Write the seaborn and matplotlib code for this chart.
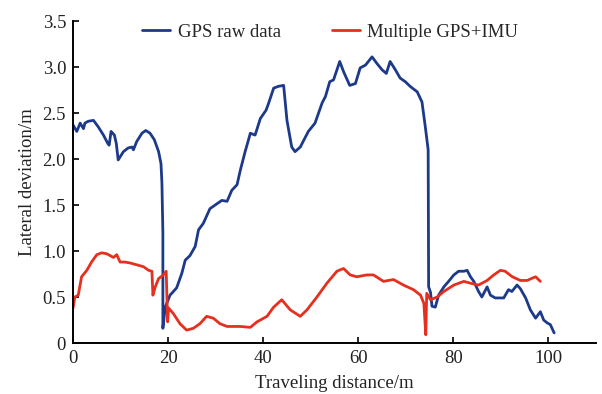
import matplotlib
matplotlib.use("Agg")
import matplotlib.pyplot as plt
import seaborn as sns
import pandas as pd

# GPS raw data
gps_x = [0, 0.8, 1.5, 2.2, 2.5, 3.2, 4.3, 5.3, 6.4, 7.3, 7.6, 8.0, 8.7, 9.1, 9.5, 10.6, 11.6, 12.4, 12.7,
         13.4, 14.5, 15.3, 16.2, 17.1, 18.0, 18.5, 18.7, 18.9, 18.9, 19.4, 20.4, 21.8, 22.9, 23.6, 24.6, 25.7,
         26.4, 27.4, 28.8, 29.9, 31.3, 32.4, 33.4, 34.5, 35.2, 36.2, 37.3, 38.3, 39.4, 40.6, 41.1, 42.2,
         43.2, 44.3, 45.0, 46.0, 46.7, 47.8, 49.5, 50.9, 52.4, 53.1, 54.0, 54.8, 56.1, 56.9, 58.2, 59.4,
         60.4, 61.5, 62.9, 63.9, 65.0, 65.9, 66.7, 67.8, 68.8, 69.9, 70.9, 72.4, 73.4, 74.1, 74.7, 74.8,
         75.2, 75.5, 76.2, 76.9, 78.0, 79.0, 80.1, 81.1, 82.2, 82.9, 83.6, 84.3, 85.3, 86.0, 87.1, 87.8,
         88.8, 90.6, 91.6, 92.3, 93.4, 94.1, 95.2, 96.2, 97.3, 98.3, 99.0, 99.7, 100.4, 101.2]
gps_y = [2.37, 2.30, 2.39, 2.33, 2.39, 2.41, 2.42, 2.35, 2.26, 2.17, 2.15, 2.30, 2.26, 2.17, 1.99, 2.08, 2.12,
         2.13, 2.10, 2.19, 2.28, 2.31, 2.28, 2.21, 2.08, 1.95, 1.74, 1.20, 0.16, 0.39, 0.52, 0.60, 0.76, 0.90,
         0.95, 1.05, 1.23, 1.30, 1.46, 1.50, 1.55, 1.54, 1.66, 1.72, 1.88, 2.08, 2.28, 2.26, 2.44, 2.53,
         2.60, 2.77, 2.79, 2.80, 2.42, 2.13, 2.08, 2.13, 2.30, 2.39, 2.61, 2.68, 2.84, 2.86, 3.06, 2.95,
         2.80, 2.82, 2.99, 3.02, 3.11, 3.04, 2.97, 2.93, 3.06, 2.97, 2.88, 2.84, 2.79, 2.73, 2.62, 2.35,
         2.10, 0.61, 0.55, 0.40, 0.39, 0.52, 0.61, 0.67, 0.74, 0.78, 0.78, 0.79, 0.72, 0.67, 0.56, 0.50,
         0.61, 0.52, 0.49, 0.49, 0.58, 0.56, 0.63, 0.59, 0.49, 0.36, 0.27, 0.34, 0.25, 0.22, 0.20, 0.11]

# Multiple GPS+IMU
imu_x = [0, 0.4, 1.1, 1.8, 2.9, 3.9, 5.0, 6.0, 7.1, 8.5, 9.2, 9.9, 10.9, 12.0, 13.4, 14.8, 15.9, 16.6,
         16.8, 17.3, 18.0, 19.0, 19.6, 19.9, 20.1, 21.1, 22.5, 23.9, 25.3, 26.7, 28.1, 29.5, 30.9, 32.4,
         35.2, 37.3, 38.7, 40.8, 42.2, 43.9, 45.7, 47.8, 49.2, 51.3, 53.4, 55.5, 56.9, 58.3, 59.7, 61.8,
         63.2, 65.3, 67.4, 69.5, 71.6, 73.1, 73.8, 74.2, 74.4, 75.2, 76.6, 78.0, 80.1, 82.2, 83.6, 85.3,
         87.1, 88.5, 89.9, 90.9, 92.4, 94.1, 95.5, 97.3, 98.3]
imu_y = [0.38, 0.50, 0.52, 0.72, 0.79, 0.88, 0.96, 0.98, 0.97, 0.93, 0.96, 0.88, 0.88, 0.87, 0.85, 0.83,
         0.79, 0.78, 0.52, 0.61, 0.70, 0.74, 0.78, 0.23, 0.38, 0.32, 0.21, 0.14, 0.16, 0.21, 0.29, 0.27,
         0.21, 0.18, 0.18, 0.17, 0.23, 0.29, 0.39, 0.47, 0.36, 0.29, 0.36, 0.50, 0.65, 0.78, 0.81, 0.74,
         0.72, 0.74, 0.74, 0.67, 0.69, 0.63, 0.58, 0.52, 0.43, 0.09, 0.54, 0.47, 0.50, 0.56, 0.63, 0.67,
         0.65, 0.63, 0.68, 0.74, 0.79, 0.78, 0.72, 0.68, 0.68, 0.72, 0.67]

y_ticks = [0, 0.5, 1.0, 1.5, 2.0, 2.5, 3.0, 3.5]
y_tick_labels = ["0", "0.5", "1.0", "1.5", "2.0", "2.5", "3.0", "3.5"]
x_ticks = [0, 20, 40, 60, 80, 100]

sns.set_theme(style="white")
plt.rcParams['font.family'] = ['Liberation Serif', 'DejaVu Serif']

fig = plt.figure(figsize=(6.02, 3.94), dpi=100)
ax = fig.add_axes([0.1213, 0.1294, 0.8687, 0.8173])

df_gps = pd.DataFrame({"x": gps_x, "y": gps_y})
df_imu = pd.DataFrame({"x": imu_x, "y": imu_y})
sns.lineplot(data=df_gps, x="x", y="y", ax=ax, color="#1d3a8a", lw=2.0,
             sort=False, estimator=None, label="GPS raw data")
sns.lineplot(data=df_imu, x="x", y="y", ax=ax, color="#e5301f", lw=2.0,
             sort=False, estimator=None, label="Multiple GPS+IMU")

ax.set_xlim(0, 110)
ax.set_ylim(0, 3.5)
ax.set_xticks(x_ticks)
ax.set_xticklabels([str(t) for t in x_ticks])
ax.set_yticks(y_ticks)
ax.set_yticklabels(y_tick_labels)
ax.tick_params(direction="in", length=4, width=1.2, labelsize=13.5, color="black", labelcolor="#222222",
               left=True, bottom=True, pad=5)
for s in ["top", "right"]:
    ax.spines[s].set_visible(False)
for s in ["left", "bottom"]:
    ax.spines[s].set_color("black")
    ax.spines[s].set_linewidth(1.4)

ax.set_xlabel("Traveling distance/m", fontsize=13.5, color="#222222", labelpad=6)
ax.set_ylabel("Lateral deviation/m", fontsize=13.5, color="#222222", labelpad=5)

ax.legend(loc="upper center", bbox_to_anchor=(0.492, 1.045), ncol=2, frameon=False,
          fontsize=13.5, handlelength=1.5, columnspacing=2.7, handletextpad=0.4)

fig.savefig("out.png", dpi=100)
